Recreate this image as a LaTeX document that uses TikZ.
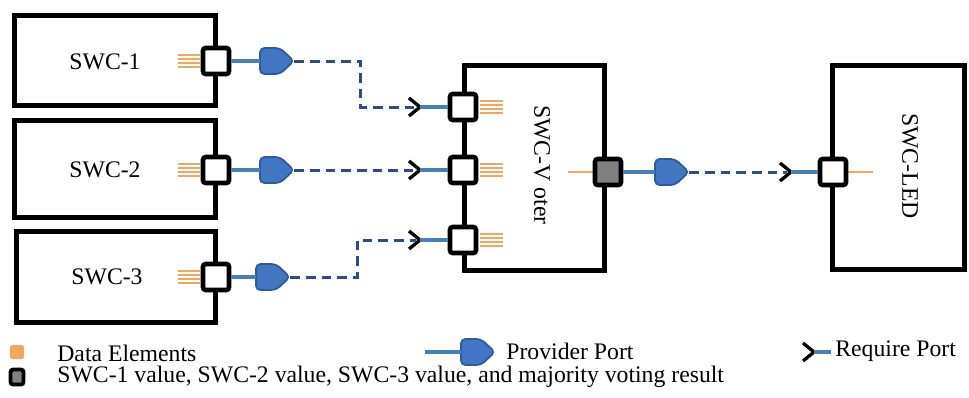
\documentclass[tikz,border=0pt]{standalone}
\usepackage{fontspec}
\setmainfont{Liberation Serif}
\usetikzlibrary{calc}
\definecolor{wireblue}{HTML}{4A7EBB}
\definecolor{dashblue}{HTML}{2E4E7E}
\definecolor{portfill}{HTML}{4276C2}
\definecolor{portline}{HTML}{2F5B99}
\definecolor{dataorange}{HTML}{F0A860}
\definecolor{valuegray}{HTML}{808080}
\tikzset{
  swcbox/.style={draw, line width=2.8pt, fill=white, inner sep=0pt},
  swclabel/.style={font=\fontsize{13.5}{16}\selectfont, inner sep=0pt},
  portsq/.style={draw, line width=2.6pt, fill=white, minimum size=0.52cm,
    inner sep=0pt, rounded corners=1.5pt},
  valuesq/.style={portsq, fill=valuegray},
  provider/.style={minimum width=0.68cm, minimum height=0.54cm, inner sep=0pt},
  providershape/.style={draw=portline, line width=1pt, fill=portfill,
    rounded corners=2.5pt},
  wire/.style={draw=wireblue, line width=1.8pt},
  dashwire/.style={draw=dashblue, line width=1.7pt, dash pattern=on 5.5pt off 3.4pt},
  chevron/.style={draw=black, line width=1.9pt},
  dataline/.style={draw=dataorange, line width=0.7pt},
  legendtext/.style={font=\fontsize{13.5}{16}\selectfont, anchor=west, inner sep=0pt},
}
\begin{document}
\begin{tikzpicture}[x=0.02cm, y=-0.02cm]
\useasboundingbox (0,0) rectangle (969,397);

% software components
\node[swcbox, minimum width=4.02cm, minimum height=1.8cm] (S1) at (115,60.5) {};
\node[swcbox, minimum width=4.02cm, minimum height=1.94cm] (S2) at (115,169) {};
\node[swcbox, minimum width=3.98cm, minimum height=1.82cm] (S3) at (116,277) {};
\node[swcbox, minimum width=2.8cm, minimum height=4.1cm] (SV) at (534.5,168) {};
\node[swcbox, minimum width=2.64cm, minimum height=4.08cm] (SL) at (898.5,167.5) {};

\node[swclabel] (t1) at (105,62) {SWC-1};
\node[swclabel] (t2) at (105,170) {SWC-2};
\node[swclabel] (t3) at (107,277) {SWC-3};
\node[swclabel, rotate=-90] (tv) at (542,165) {SWC-V oter};
\node[swclabel, rotate=-90] (tl) at (910,166) {SWC-LED};

% data elements
\foreach \yy in {61,170,277}{
  \foreach \dd in {-6,-2,2,6}{
    \draw[dataline] (178,\yy+\dd) -- (200,\yy+\dd);
  }
}
\foreach \yy in {107,170,240}{
  \foreach \dd in {-6,-2,2,6}{
    \draw[dataline] (480,\yy+\dd) -- (503,\yy+\dd);
  }
}
\draw[dataline] (568,172) -- (594,172);
\draw[dataline] (848,172) -- (873,172);

% ports on the component edges
\node[portsq] (P1) at (216,61) {};
\node[portsq] (P2) at (216,170) {};
\node[portsq] (P3) at (216,277) {};
\node[portsq] (V1) at (463,107) {};
\node[portsq] (V2) at (463,170) {};
\node[portsq] (V3) at (463,240) {};
\node[valuesq] (VO) at (608,172) {};
\node[portsq] (L1) at (833,172) {};

% provider ports: named anchor boxes with a pentagon drawn on top
\node[provider] (PP1) at (277,61) {};
\node[provider] (PP2) at (277,170) {};
\node[provider] (PP3) at (273,277) {};
\node[provider] (PPO) at (672,172) {};
\node[provider] (lp) at (478,352) {};
\foreach \p in {PP1,PP2,PP3,PPO,lp}{
  \path[providershape] ($(\p)+(-17,-13)$) -- ($(\p)+(3,-13)$) -- ($(\p)+(17,0)$)
    -- ($(\p)+(3,13)$) -- ($(\p)+(-17,13)$) -- cycle;
}
\draw[wire] (P1.east) -- (PP1.west);
\draw[wire] (P2.east) -- (PP2.west);
\draw[wire] (P3.east) -- (PP3.west);
\draw[wire] (VO.east) -- (PPO.west);

% require ports (chevron tips)
\coordinate (r1) at (420,107);
\coordinate (r2) at (420,170);
\coordinate (r3) at (420,240);
\coordinate (r4) at (791,172);
\coordinate (lr) at (814,352);
\foreach \r in {r1,r2,r3,r4,lr}{
  \draw[chevron] ($(\r)+(-11,-9)$) -- (\r) -- ($(\r)+(-11,9)$);
}
\draw[wire] (r1) -- (V1.west);
\draw[wire] (r2) -- (V2.west);
\draw[wire] (r3) -- (V3.west);
\draw[wire] (r4) -- (L1.west);

% sender-receiver connections
\draw[dashwire] (PP1.east) -- ++(66,0) |- ($(r1)+(-4,0)$);
\draw[dashwire] (PP2.east) -- ($(r2)+(-4,0)$);
\draw[dashwire] (PP3.east) -- ++(67,0) |- ($(r3)+(-4,0)$);
\draw[dashwire] (PPO.east) -- ($(r4)+(-4,0)$);

% legend
\node[draw=none, fill=dataorange, minimum size=0.28cm, inner sep=0pt,
  rounded corners=1pt] (ld) at (17,352) {};
\node[legendtext] (ldt) at (57,353) {Data Elements};

\coordinate (lpa) at (425,352);
\draw[wire] (lpa) -- (lp.west);
\node[legendtext] (lpt) at (506,351) {Provider Port};

\coordinate (lrb) at (831,352);
\draw[wire] (lr) -- (lrb);
\node[legendtext] (lrt) at (835,351) {Require Port};

\node[draw, line width=2.2pt, fill=valuegray, minimum width=0.26cm,
  minimum height=0.3cm, inner sep=0pt, rounded corners=1.5pt] (lv) at (17,377) {};
\node[legendtext] (lvt) at (57,377) {SWC-1 value, SWC-2 value, SWC-3 value, and majority voting result};
\end{tikzpicture}
\end{document}
